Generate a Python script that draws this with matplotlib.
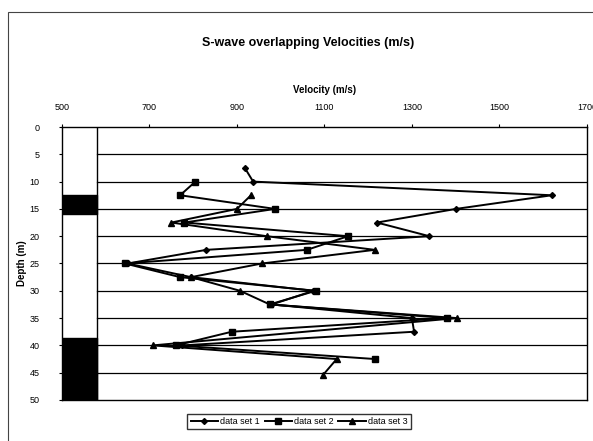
import matplotlib.pyplot as plt
import matplotlib.patches as mpatches

plt.rcParams['font.family'] = ['Liberation Sans', 'DejaVu Sans']

# data
depth1 = [7.5, 10, 12.5, 15, 17.5, 20, 22.5, 25, 27.5, 30, 32.5, 35, 37.5, 40]
vel1 = [918, 937, 1620, 1401, 1220, 1340, 830, 650, 795, 1075, 980, 1300, 1305, 775]

depth2 = [10, 12.5, 15, 17.5, 20, 22.5, 25, 27.5, 30, 32.5, 35, 37.5, 40, 42.5]
vel2 = [805, 770, 987, 780, 1154, 1060, 644, 770, 1080, 975, 1380, 888, 760, 1216]

depth3 = [12.5, 15, 17.5, 20, 22.5, 25, 27.5, 30, 32.5, 35, 40, 42.5, 45.4]
vel3 = [932, 900, 750, 968, 1215, 957, 795, 907, 975, 1403, 708, 1128, 1097]

# lithology column (depth ranges drawn dark)
dark_layers = [(12.5, 16), (38.6, 50)]
column_right = 580

fig = plt.figure(figsize=(5.93, 4.41), dpi=100)
ax = fig.add_axes([0.1046, 0.093, 0.885, 0.619])

# outer chart border
fig.patches.append(mpatches.Rectangle((0.013, -0.01), 1.0, 0.983, transform=fig.transFigure,
                                      fill=False, edgecolor='#444444', linewidth=0.8))

for top, bottom in dark_layers:
    ax.fill_betweenx([top, bottom], 500, column_right, color='black', zorder=2)
ax.axvline(column_right, color='black', linewidth=1.0, zorder=2)

for d in range(5, 50, 5):
    ax.axhline(d, xmin=(column_right - 500) / 1200, color='black', linewidth=0.9, zorder=1)

ax.plot(vel1, depth1, color='black', marker='D', markersize=3, linewidth=1.4, label='data set 1', zorder=3)
ax.plot(vel2, depth2, color='black', marker='s', markersize=4.5, linewidth=1.4, label='data set 2', zorder=3)
ax.plot(vel3, depth3, color='black', marker='^', markersize=4.5, linewidth=1.4, label='data set 3', zorder=3)

ax.set_xlim(500, 1700)
ax.set_ylim(50, 0)
ax.set_xticks(range(500, 1701, 200))
ax.set_yticks(range(0, 51, 5))
ax.xaxis.tick_top()
ax.xaxis.set_label_position('top')
ax.tick_params(labelsize=6.5, length=2)
ax.tick_params(axis='x', pad=9)
ax.tick_params(axis='y', pad=14)
ax.set_xlabel('Velocity (m/s)', fontsize=7, fontweight='bold', labelpad=7)
ax.set_ylabel('Depth (m)', fontsize=7, fontweight='bold', labelpad=2)
for s in ax.spines.values():
    s.set_linewidth(1.0)

fig.text(0.52, 0.902, 'S-wave overlapping Velocities (m/s)', ha='center', va='center',
         fontsize=9, fontweight='bold')

ax.legend(loc='upper center', bbox_to_anchor=(0.452, -0.035), ncol=3, fontsize=6.5,
          frameon=True, fancybox=False, edgecolor='black', handlelength=3,
          columnspacing=0.5, handletextpad=0.3, borderpad=0.35)

fig.savefig('out.png', dpi=100)
